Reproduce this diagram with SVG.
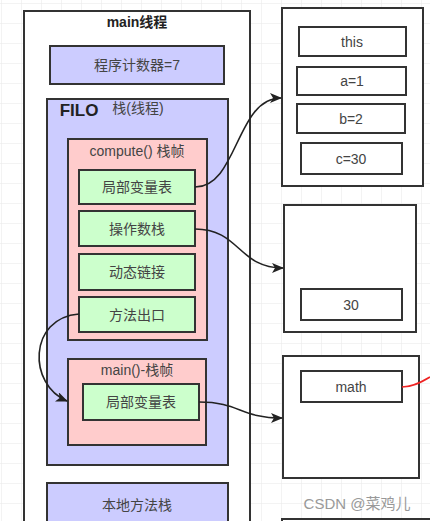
<svg xmlns="http://www.w3.org/2000/svg" width="430" height="521" viewBox="0 0 430 521">
  <defs>
    <pattern id="grid" x="1" y="3" width="20" height="20" patternUnits="userSpaceOnUse">
      <path d="M20 0 L0 0 0 20" fill="none" stroke="#e8e8e8" stroke-width="1"/>
    </pattern>
    <marker id="arr" viewBox="0 0 12 10" refX="11" refY="5" markerWidth="12" markerHeight="10" markerUnits="userSpaceOnUse" orient="auto">
      <path d="M0,0 L12,5 L0,10 L3,5 Z" fill="#222"/>
    </marker>
    <style>
      .box { stroke: #333; stroke-width: 2; }
      .white { fill: #ffffff; }
      .lav { fill: #ccccff; }
      .pink { fill: #ffcccc; }
      .green { fill: #ccffcc; }
      .t { font-family: "Liberation Sans", "Noto Sans CJK SC", sans-serif; font-size: 14px; fill: #444; text-anchor: middle; dominant-baseline: central; }
      .b { font-weight: bold; fill: #222; }
      .edge { fill: none; stroke: #222; stroke-width: 1.6; }
    </style>
  </defs>
  <rect width="430" height="521" fill="#ffffff"/>
  <rect width="430" height="521" fill="url(#grid)"/>

  <g id="main-thread">
    <rect class="box white" x="24" y="11" width="226" height="530"/>
    <text class="t b" x="137" y="22">main线程</text>
  </g>
  <g id="pc">
    <rect class="box lav" x="50" y="46" width="174" height="38"/>
    <text class="t" x="137" y="65">程序计数器=7</text>
  </g>
  <g id="stack">
    <rect class="box lav" x="47" y="99" width="181" height="366"/>
    <text class="t b" x="79" y="110" style="font-size:17px">FILO</text>
    <text class="t" x="138" y="108">栈(线程)</text>
  </g>
  <g id="compute-frame">
    <rect class="box pink" x="68" y="139" width="139" height="201"/>
    <text class="t" x="137" y="151">compute() 栈帧</text>
  </g>
  <g id="compute-locals">
    <rect class="box green" x="79" y="170" width="116" height="34"/>
    <text class="t" x="137" y="187">局部变量表</text>
  </g>
  <g id="compute-operand">
    <rect class="box green" x="79" y="211" width="116" height="35"/>
    <text class="t" x="137" y="228.5">操作数栈</text>
  </g>
  <g id="compute-dynlink">
    <rect class="box green" x="79" y="254" width="116" height="36"/>
    <text class="t" x="137" y="272">动态链接</text>
  </g>
  <g id="compute-exit">
    <rect class="box green" x="79" y="297" width="116" height="35"/>
    <text class="t" x="137" y="314.5">方法出口</text>
  </g>
  <g id="main-frame">
    <rect class="box pink" x="68" y="359" width="138" height="86"/>
    <text class="t" x="137" y="370">main()-栈帧</text>
  </g>
  <g id="main-locals">
    <rect class="box green" x="83" y="384" width="116" height="36"/>
    <text class="t" x="141" y="402">局部变量表</text>
  </g>
  <g id="native-stack">
    <rect class="box lav" x="47" y="483" width="181" height="60"/>
    <text class="t" x="137" y="505">本地方法栈</text>
  </g>

  <g id="locals-table">
    <rect class="box white" x="282" y="8" width="141" height="178"/>
    <rect class="box white" x="299" y="27" width="107" height="29"/>
    <text class="t" x="352" y="41.5">this</text>
    <rect class="box white" x="297" y="67" width="109" height="28"/>
    <text class="t" x="352" y="81">a=1</text>
    <rect class="box white" x="297" y="104" width="108" height="29"/>
    <text class="t" x="351" y="118.5">b=2</text>
    <rect class="box white" x="301" y="143" width="101" height="31"/>
    <text class="t" x="351" y="158.5">c=30</text>
  </g>
  <g id="operand-stack">
    <rect class="box white" x="284" y="205" width="132" height="127"/>
    <rect class="box white" x="301" y="289" width="101" height="31"/>
    <text class="t" x="351" y="304.5">30</text>
  </g>
  <g id="main-locals-table">
    <rect class="box white" x="283" y="356" width="136" height="122"/>
    <rect class="box white" x="301" y="371" width="101" height="31"/>
    <text class="t" x="351" y="386.5">math</text>
  </g>
  <g id="bottom-box">
    <rect class="box white" x="282" y="519" width="160" height="20"/>
  </g>

  <g id="connectors">
    <path class="edge" d="M195,187 C238,187 236,98 281,98" marker-end="url(#arr)"/>
    <path class="edge" d="M195,229 C240,229 238,268 283,268" marker-end="url(#arr)"/>
    <path class="edge" d="M79,314 C28,318 28,385 67,401" marker-end="url(#arr)"/>
    <path class="edge" d="M199,402 C240,402 240,418 282,418" marker-end="url(#arr)"/>
    <path d="M402,387 C412,387 420,383 430,377" fill="none" stroke="#ee2222" stroke-width="1.6"/>
  </g>

  <text class="t" x="357" y="503" style="font-size:15px;fill:#999">CSDN @菜鸡儿</text>
</svg>
